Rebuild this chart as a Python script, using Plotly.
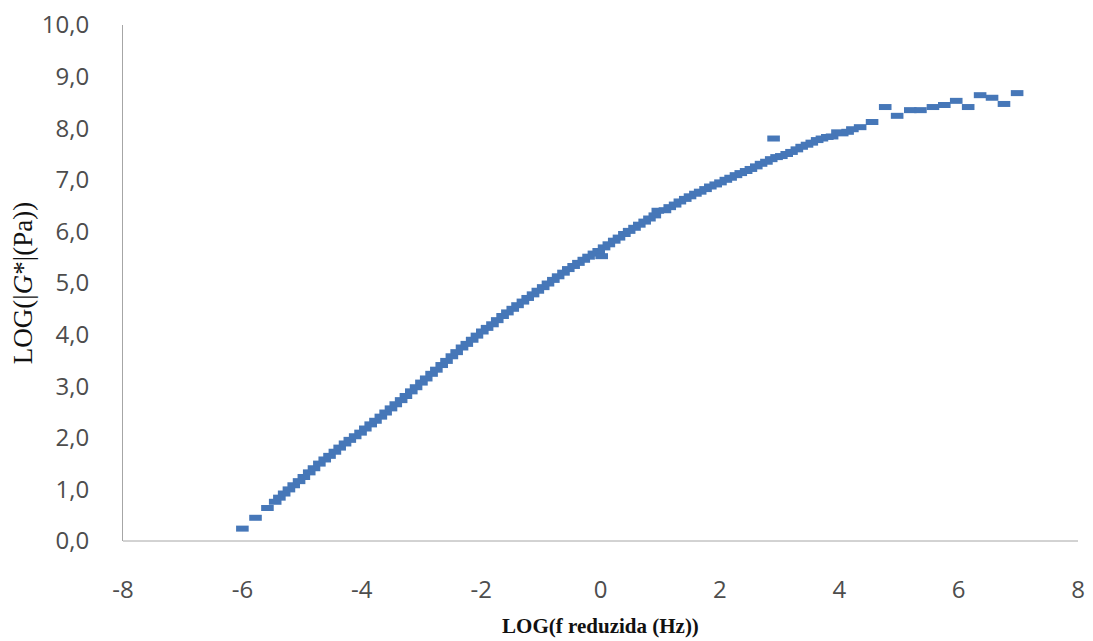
import plotly.graph_objects as go

log_f = [-6.00, -5.78, -5.58, -5.45, -5.38, -5.30, -5.22, -5.14, -5.05, -4.97,
         -4.88, -4.80, -4.71, -4.62, -4.54, -4.45, -4.37, -4.28, -4.20, -4.11,
         -4.02, -3.94, -3.85, -3.77, -3.68, -3.60, -3.51, -3.43, -3.34, -3.26,
         -3.17, -3.09, -3.00, -2.92, -2.83, -2.75, -2.66, -2.58, -2.49, -2.41,
         -2.32, -2.24, -2.15, -2.07, -1.98, -1.90, -1.81, -1.73, -1.64, -1.56,
         -1.47, -1.39, -1.30, -1.22, -1.13, -1.05, -0.96, -0.88, -0.79, -0.71,
         -0.62, -0.54, -0.45, -0.37, -0.28, -0.20, -0.11, -0.03, 0.02, 0.06,
         0.14, 0.23, 0.31, 0.40, 0.48, 0.57, 0.65, 0.74, 0.82, 0.91,
         0.96, 1.08, 1.16, 1.25, 1.33, 1.42, 1.50, 1.59, 1.67, 1.76,
         1.84, 1.93, 2.01, 2.10, 2.18, 2.27, 2.35, 2.44, 2.52, 2.61,
         2.69, 2.78, 2.86, 2.90, 2.95, 3.03, 3.12, 3.20, 3.29, 3.37,
         3.46, 3.54, 3.63, 3.71, 3.80, 3.88, 3.97, 4.05, 4.14, 4.22,
         4.35, 4.55, 4.77, 4.97, 5.19, 5.36, 5.57, 5.76, 5.96, 6.16,
         6.36, 6.56, 6.76, 6.98]

log_g = [0.24, 0.45, 0.64, 0.76, 0.84, 0.92, 1.00, 1.08, 1.16, 1.24,
         1.33, 1.41, 1.50, 1.58, 1.65, 1.73, 1.81, 1.89, 1.96, 2.03,
         2.10, 2.18, 2.26, 2.33, 2.41, 2.49, 2.57, 2.65, 2.73, 2.81,
         2.90, 2.98, 3.07, 3.15, 3.24, 3.32, 3.41, 3.49, 3.58, 3.66,
         3.75, 3.82, 3.90, 3.98, 4.06, 4.13, 4.20, 4.28, 4.36, 4.43,
         4.50, 4.57, 4.64, 4.71, 4.78, 4.85, 4.92, 4.99, 5.06, 5.13,
         5.20, 5.27, 5.33, 5.39, 5.45, 5.51, 5.57, 5.62, 5.52, 5.69,
         5.75, 5.82, 5.88, 5.95, 6.01, 6.07, 6.13, 6.19, 6.25, 6.31,
         6.40, 6.41, 6.47, 6.52, 6.58, 6.63, 6.68, 6.73, 6.77, 6.82,
         6.87, 6.91, 6.95, 7.00, 7.04, 7.09, 7.13, 7.17, 7.21, 7.26,
         7.31, 7.35, 7.40, 7.80, 7.44, 7.46, 7.50, 7.54, 7.59, 7.64,
         7.68, 7.72, 7.77, 7.80, 7.83, 7.84, 7.92, 7.90, 7.93, 7.98,
         8.02, 8.12, 8.41, 8.24, 8.35, 8.35, 8.41, 8.45, 8.53, 8.41,
         8.64, 8.59, 8.47, 8.68]

x_tickvals = [-8, -6, -4, -2, 0, 2, 4, 6, 8]
x_ticktext = ["-8", "-6", "-4", "-2", "0", "2", "4", "6", "8"]
y_tickvals = [0, 1, 2, 3, 4, 5, 6, 7, 8, 9, 10]

fig = go.Figure()
fig.add_trace(go.Scatter(
    x=log_f, y=log_g, mode="markers",
    marker=dict(symbol="line-ew", size=9,
                line=dict(width=6, color="#4677B8")),
    showlegend=False,
))

tick_font = dict(family="Open Sans", size=24, color="#4D4D4D")

fig.update_layout(
    width=1093, height=641,
    margin=dict(l=123, r=15, t=25, b=100),
    paper_bgcolor="white", plot_bgcolor="white",
    separators=",.",
    xaxis=dict(
        range=[-8, 8], tickvals=x_tickvals, ticktext=x_ticktext,
        showgrid=False, zeroline=False, automargin=False,
        showline=False, ticks="", ticklabelstandoff=32,
        tickfont=tick_font,
        title=dict(text="<b>LOG(f reduzida (Hz))</b>",
                   font=dict(family="Liberation Serif", size=21, color="#111111"),
                   standoff=14),
    ),
    yaxis=dict(
        range=[0, 10], tickvals=y_tickvals, tickformat=".1f",
        showgrid=False, zeroline=False, automargin=False,
        showline=True, linecolor="#A6A6A6", linewidth=1,
        ticks="", ticklabelstandoff=28,
        tickfont=tick_font,
        title=dict(text="LOG(|<i>G</i>*|(Pa))",
                   font=dict(family="Liberation Serif", size=27, color="#111111"),
                   standoff=1),
    ),
    shapes=[dict(type="line", xref="paper", yref="paper", x0=0, x1=1, y0=0, y1=0,
                 line=dict(color="#A6A6A6", width=1))],
)

fig.write_html("out.html")
